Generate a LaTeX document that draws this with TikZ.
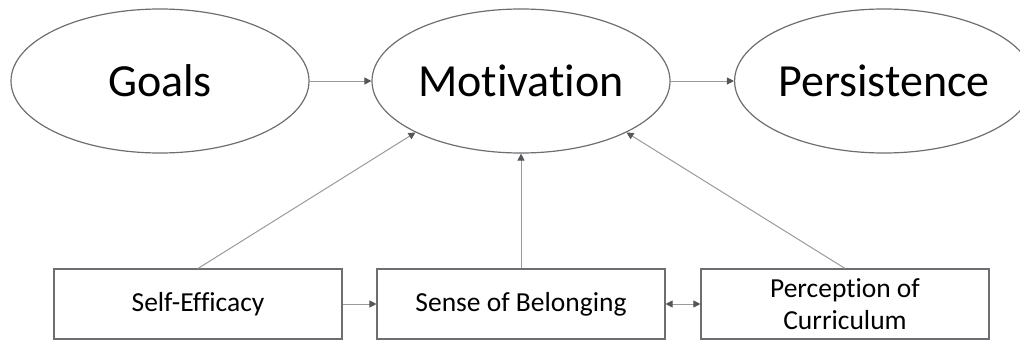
\documentclass[tikz,border=0pt]{standalone}
\usepackage{fontspec}
\setmainfont{Carlito}[Ligatures={NoCommon}]
\usetikzlibrary{shapes.geometric,arrows.meta}
\definecolor{edgegray}{HTML}{6E6E72}
\definecolor{linegray}{HTML}{9A9A9A}
\definecolor{tipgray}{HTML}{55555A}
\tikzset{
  big/.style={ellipse,draw=edgegray,line width=1.2pt,minimum width=298pt,minimum height=144pt,inner sep=0pt,font=\fontsize{46}{50}\selectfont},
  boxnode/.style={rectangle,draw=edgegray,line width=1.1pt,minimum width=288pt,minimum height=70pt,inner sep=0pt,align=center,font=\fontsize{27.5}{32}\selectfont},
  conn/.style={draw=linegray,line width=1pt,-{Triangle[length=7pt,width=7pt,fill=tipgray,color=tipgray]}},
  biconn/.style={draw=linegray,line width=1pt,{Triangle[length=7pt,width=7pt,fill=tipgray,color=tipgray]}-{Triangle[length=7pt,width=7pt,fill=tipgray,color=tipgray]}}
}
\begin{document}
\begin{tikzpicture}[x=1pt,y=-1pt]
\clip (0,0) rectangle (1020,340);
\node[big] (goals) at (160,81) {Goals};
\node[big] (mot) at (521,81) {Motivation};
\node[big] (per) at (884,81) {Persistence};
\node[boxnode] (se) at (198,304) {Self-Efficacy};
\node[boxnode] (sb) at (521,304) {Sense of Belonging};
\node[boxnode] (pc) at (845,304) {Perception of\\Curriculum};
\draw[conn] (goals) -- (mot);
\draw[conn] (mot) -- (per);
\draw[conn] (se.north) -- (mot.206);
\draw[conn] (sb.north) -- (mot.south);
\draw[conn] (pc.north) -- (mot.334);
\draw[conn] (se) -- (sb);
\draw[biconn] (sb) -- (pc);
\end{tikzpicture}
\end{document}
